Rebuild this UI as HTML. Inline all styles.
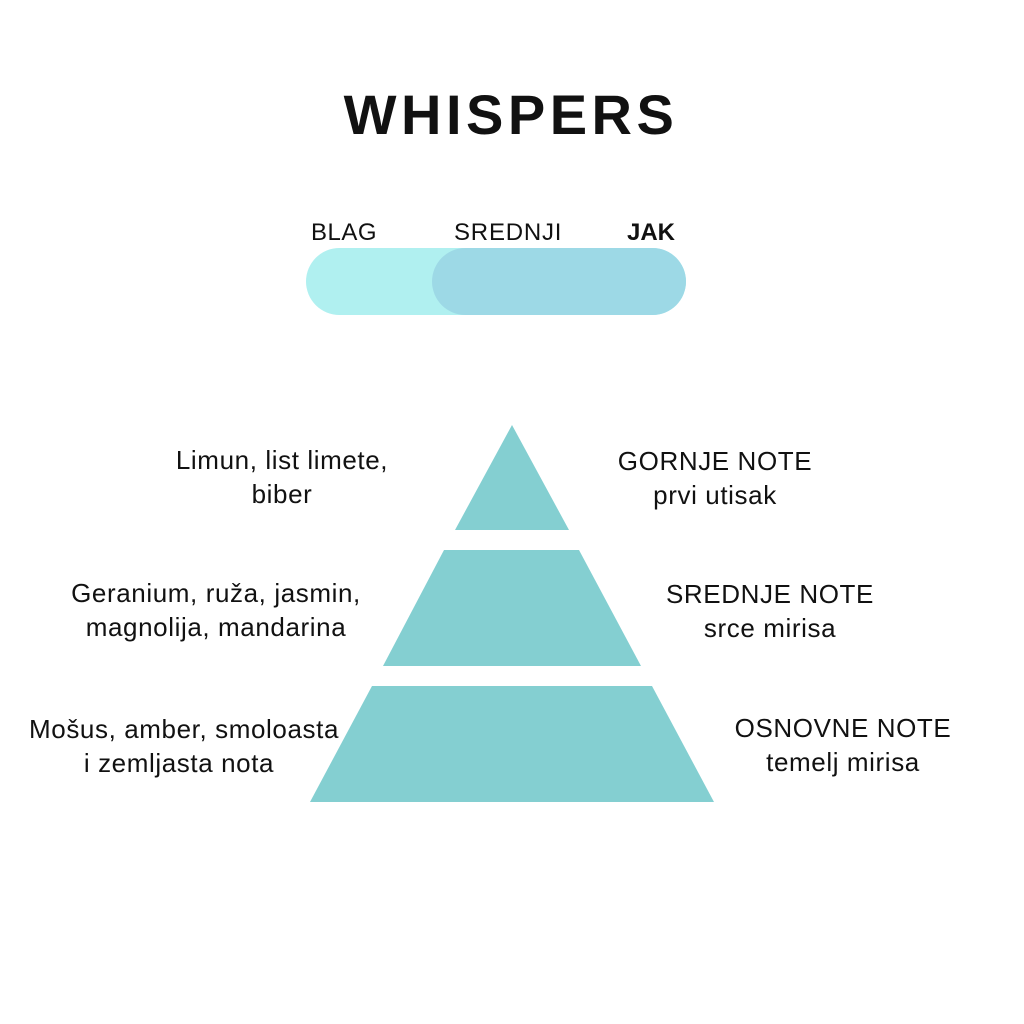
<!DOCTYPE html>
<html><head><meta charset="utf-8"><style>
body{margin:0;width:1024px;height:1024px;background:#fff;position:relative;overflow:hidden;font-family:"Liberation Sans",sans-serif;color:#111}
.t{position:absolute;white-space:nowrap;font-size:26px;line-height:34px;letter-spacing:0.6px}
.c{text-align:center}
</style></head><body>
<div class="t" style="left:0;width:1022px;top:80px;text-align:center;font-size:56px;line-height:70px;font-weight:bold;letter-spacing:4.5px">WHISPERS</div>
<div class="t" style="left:311px;top:216px;font-size:24px;letter-spacing:0.5px">BLAG</div>
<div class="t" style="left:454px;top:216px;font-size:24px;letter-spacing:0.8px">SREDNJI</div>
<div class="t" style="left:627px;top:216px;font-size:24px;font-weight:bold;letter-spacing:0">JAK</div>
<div style="position:absolute;left:306px;top:248px;width:380px;height:67px;border-radius:34px;background:#b0f0f0"></div>
<div style="position:absolute;left:432px;top:248px;width:254px;height:67px;border-radius:34px;background:#9dd9e6"></div>
<svg style="position:absolute;left:0;top:0" width="1024" height="1024">
<polygon points="512,425 569,530 455,530" fill="#84cfd1"/>
<polygon points="444,550 579,550 641,666 383,666" fill="#84cfd1"/>
<polygon points="372,686 652,686 714,802 310,802" fill="#84cfd1"/>
</svg>
<div class="t c" style="left:132px;width:300px;top:443px">Limun, list limete,<br>biber</div>
<div class="t c" style="left:565px;width:300px;top:444px">GORNJE NOTE<br>prvi utisak</div>
<div class="t c" style="left:66px;width:300px;top:576px">Geranium, ruža, jasmin,<br>magnolija, mandarina</div>
<div class="t c" style="left:620px;width:300px;top:577px">SREDNJE NOTE<br>srce mirisa</div>
<div class="t c" style="left:29px;width:300px;top:712px">Mošus, amber, smoloasta<br>i zemljasta nota</div>
<div class="t c" style="left:693px;width:300px;top:711px">OSNOVNE NOTE<br>temelj mirisa</div>
</body></html>
